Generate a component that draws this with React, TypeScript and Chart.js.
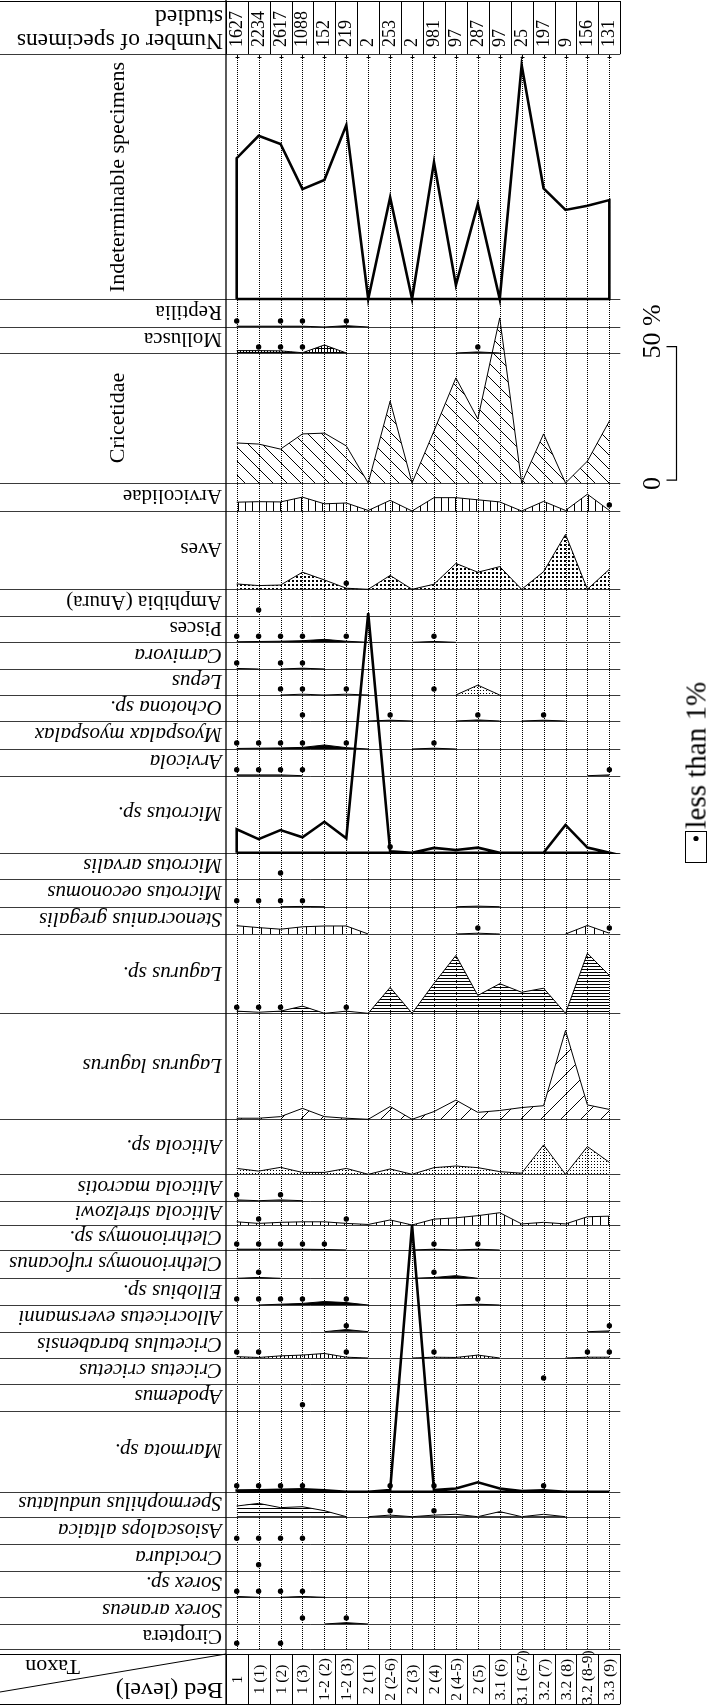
import React, { useEffect, useRef } from "react";
import { Chart, registerables } from "chart.js";

Chart.register(...registerables);

// ---------------- data ----------------
const bedLabels = ["1", "1 (1)", "1 (2)", "1 (3)", "1-2 (2)", "1-2 (3)", "2 (1)", "2 (2-6)", "2 (3)", "2 (4)", "2 (4-5)", "2 (5)", "3.1 (6)", "3.1 (6-7)", "3.2 (7)", "3.2 (8)", "3.2 (8-9)", "3.3 (9)"];
const specimenCounts = [1627, 2234, 2617, 1088, 152, 219, 2, 253, 2, 981, 97, 287, 97, 25, 197, 9, 156, 131];

// percentages per bed (18 beds)
const indeterminable = [52.8, 61.2, 58.1, 41.2, 44.6, 65.2, 0, 38.1, 0, 51.3, 5.2, 35.6, 0, 87.7, 41.5, 33.4, 35.0, 37.1];
const reptilia = [0.3, 0.3, 0.3, 0.3, 0, 0.5, 0, 0, 0, 0, 0, 0, 0, 0, 0, 0, 0, 0];
const mollusca = [0.9, 0.9, 0.8, 0.1, 3.0, 0, 0, 0, 0, 0, 0, 0.4, 0, 0, 0, 0, 0, 0];
const cricetidae = [15.0, 14.6, 12.7, 18.4, 18.7, 13.9, 0, 30.7, 0, 19.5, 39.4, 24.0, 61.9, 0, 18.4, 0, 8.2, 23.2];
const arvicolidae = [3.3, 3.5, 3.4, 5.2, 2.7, 3.0, 0.2, 4.0, 0, 5.0, 5.0, 4.2, 3.4, 0, 3.6, 0.2, 6.3, 0.2];
const aves = [2.0, 1.4, 1.6, 6.4, 3.5, 0.4, 0, 5.2, 0, 1.9, 9.7, 6.4, 8.5, 0, 6.6, 20.6, 0, 7.5];
const pisces = [0.2, 0.3, 0.4, 0.6, 1.1, 0.4, 0, 0, 0, 0.3, 0, 0, 0, 0, 0, 0, 0, 0];
const carnivora = [0.2, 0, 0, 0.3, 0, 0, 0, 0, 0, 0, 0, 0, 0, 0, 0, 0, 0, 0];
const lepus = [0, 0, 0, 0.3, 0, 0.3, 0, 0, 0, 0, 0, 3.7, 0, 0, 0, 0, 0, 0];
const ochotona = [0, 0, 0, 0, 0, 0, 0, 0.3, 0, 0, 0, 0.4, 0, 0, 0.3, 0, 0, 0];
const myospalax = [0.2, 0.3, 0.4, 0.6, 1.5, 0.5, 0, 0, 0, 0.3, 0, 0, 0, 0, 0, 0, 0, 0];
const arvicola = [0.3, 0.3, 0.3, 0, 0, 0, 0, 0, 0, 0, 0, 0, 0, 0, 0, 0, 0, 0.3];
const microtusSp = [8.8, 5.1, 8.5, 5.8, 11.6, 5.4, 89.8, 0.5, 0, 1.8, 1.0, 1.9, 0, 0, 0, 10.4, 1.9, 0];
const microtusOeconomus = [0, 0, 0, 0.1, 0, 0, 0, 0, 0, 0, 0, 0.2, 0, 0, 0, 0, 0, 0];
const stenocranius = [3.1, 2.4, 1.8, 2.7, 3.0, 3.0, 0, 0, 0, 0, 0, 0.3, 0, 0, 0, 0, 3.2, 0.3];
const lagurusSp = [0.8, 0.4, 0.8, 2.7, 0, 0.8, 0, 9.7, 0, 11.2, 21.7, 6.7, 11.1, 7.9, 9.4, 0, 22.5, 14.2];
const lagurusLagurus = [0.4, 0.4, 1.0, 4.1, 1.0, 0.4, 0, 4.8, 0, 2.9, 7.2, 2.6, 3.3, 4.4, 5.1, 33.3, 5.4, 3.7];
const alticolaSp = [2.2, 1.2, 2.6, 0.7, 0.7, 2.2, 0, 2.0, 0, 2.5, 3.1, 2.5, 1.0, 0.4, 11.0, 0, 10.4, 4.5];
const alticolaMacrotis = [0.3, 0, 0.3, 0, 0, 0, 0, 0, 0, 0, 0, 0, 0, 0, 0, 0, 0, 0];
const alticolaStrelzowi = [1.2, 0.6, 1.0, 1.2, 1.2, 0.6, 0.2, 1.9, 0, 2.2, 2.7, 3.5, 4.6, 0.4, 1.0, 0.4, 3.1, 3.3];
const clethrionomysSp = [0.3, 0.3, 0.3, 0.3, 0.2, 0, 0, 0, 0, 0.3, 0, 0.3, 0, 0, 0, 0, 0, 0];
const clethrionomysRufocanus = [0, 0.3, 0, 0, 0, 0, 0, 0, 0, 0.3, 1.0, 0, 0, 0, 0, 0, 0, 0];
const ellobius = [0, 0, 0.3, 0.6, 1.3, 0.9, 0, 0, 0, 0, 0, 0.3, 0, 0, 0, 0, 0, 0];
const allocricetus = [0, 0, 0, 0, 0, 0.8, 0, 0, 0, 0, 0, 0, 0, 0, 0, 0, 0, 0.3];
const cricetulus = [0.5, 0.2, 0.8, 1.1, 1.7, 0.3, 0, 0, 0, 0.3, 0.2, 1.1, 0, 0, 0, 0, 0.3, 0.3];
const marmota = [0.4, 0.5, 0.75, 0.9, 0.5, 0, 0, 0.6, 100, 0.6, 1.2, 3.5, 1.2, 0.25, 0.5, 0, 0, 0];
const spermophilus = [4.0, 5.0, 3.4, 3.75, 2.25, 0, 0, 0.6, 0, 0.6, 0.9, 0, 1.9, 0, 0.9, 0, 0, 0];
const sorexSp = [0.3, 0, 0, 0.3, 0, 0, 0, 0, 0, 0, 0, 0, 0, 0, 0, 0, 0, 0];
const sorexAraneus = [0, 0, 0, 0, 0, 0.5, 0, 0, 0, 0, 0, 0, 0, 0, 0, 0, 0, 0];

// beds with "less than 1%"
const reptiliaDots = [0, 2, 3, 5];
const molluscaDots = [1, 2, 3, 11];
const arvicolidaeDots = [17];
const avesDots = [5];
const amphibiaDots = [1];
const piscesDots = [0, 1, 2, 3, 5, 9];
const carnivoraDots = [0, 2, 3];
const lepusDots = [2, 3, 5, 9];
const ochotonaDots = [3, 7, 11, 14];
const myospalaxDots = [0, 1, 2, 3, 5, 9];
const arvicolaDots = [0, 1, 2, 3, 17];
const microtusSpDots = [7];
const microtusArvalisDots = [2];
const microtusOeconomusDots = [0, 1, 2, 3];
const stenocraniusDots = [11, 17];
const lagurusSpDots = [0, 1, 2, 5];
const alticolaMacrotisDots = [0, 2];
const alticolaStrelzowiDots = [1, 5];
const clethrionomysSpDots = [0, 1, 2, 3, 4, 9, 11];
const clethrionomysRufocanusDots = [1, 9];
const ellobiusDots = [0, 1, 2, 3, 5, 11];
const allocricetusDots = [5, 17];
const cricetulusDots = [0, 1, 5, 9, 16, 17];
const cricetusDots = [14];
const apodemusDots = [3];
const marmotaDots = [0, 1, 2, 3, 7, 9, 14];
const spermophilusDots = [7, 9];
const asioscalopsDots = [0, 1, 2, 3];
const crociduraDots = [1];
const sorexSpDots = [0, 1, 2, 3];
const sorexAraneusDots = [3, 5];
const cimropteraDots = [0, 2];

// ---------------- layout ----------------
const PAGE_W = 707;
const PAGE_H = 1705;
const BED0_PX = 236.7;
const BED_STEP_PX = 21.92;
const LEFT_COL_X = 226;
const HEADER_TOP = 1;
const HEADER_BOTTOM = 54;
const BED_ROW_TOP = 1654;
const BED_ROW_BOTTOM = 1704;
const PX_PER_PERCENT = 2.667;
const DOT_RISE = 6;
const rowEdges = [54, 299, 327, 353, 483, 511, 589.3, 616, 642.3, 669, 695, 721, 749, 775.7, 852.7, 879, 906.7, 934, 1013.3, 1119.3, 1174.3, 1200.7, 1225, 1250, 1278.3, 1305, 1331.7, 1358, 1384, 1410.7, 1491.7, 1516.7, 1544.3, 1570.7, 1597.3, 1624, 1649.3];
const SERIF = '"Liberation Serif", "Times New Roman", Times, serif';

type Taxon = { name: string; italic: boolean; tall?: boolean; values: number[] | null; dots: number[]; fill: string };

const taxa: Taxon[] = [
  { name: "Indeterminable specimens", italic: false, tall: true, values: indeterminable, dots: [], fill: "outline" },
  { name: "Reptilia", italic: false, values: reptilia, dots: reptiliaDots, fill: "solid" },
  { name: "Mollusca", italic: false, values: mollusca, dots: molluscaDots, fill: "grid" },
  { name: "Cricetidae", italic: false, tall: true, values: cricetidae, dots: [], fill: "diagBack" },
  { name: "Arvicolidae", italic: false, values: arvicolidae, dots: arvicolidaeDots, fill: "vert7" },
  { name: "Aves", italic: false, values: aves, dots: avesDots, fill: "dots" },
  { name: "Amphibia (Anura)", italic: false, values: null, dots: amphibiaDots, fill: "none" },
  { name: "Pisces", italic: false, values: pisces, dots: piscesDots, fill: "solid" },
  { name: "Carnivora", italic: true, values: carnivora, dots: carnivoraDots, fill: "solid" },
  { name: "Lepus", italic: true, values: lepus, dots: lepusDots, fill: "sparse" },
  { name: "Ochotona sp.", italic: true, values: ochotona, dots: ochotonaDots, fill: "solid" },
  { name: "Myospalax myospalax", italic: true, values: myospalax, dots: myospalaxDots, fill: "solid" },
  { name: "Arvicola", italic: true, values: arvicola, dots: arvicolaDots, fill: "solid" },
  { name: "Microtus sp.", italic: true, values: microtusSp, dots: microtusSpDots, fill: "outline" },
  { name: "Microtus arvalis", italic: true, values: null, dots: microtusArvalisDots, fill: "none" },
  { name: "Microtus oeconomus", italic: true, values: microtusOeconomus, dots: microtusOeconomusDots, fill: "solid" },
  { name: "Stenocranius gregalis", italic: true, values: stenocranius, dots: stenocraniusDots, fill: "vert9" },
  { name: "Lagurus sp.", italic: true, values: lagurusSp, dots: lagurusSpDots, fill: "horiz3" },
  { name: "Lagurus lagurus", italic: true, values: lagurusLagurus, dots: [], fill: "diagFwd" },
  { name: "Alticola sp.", italic: true, values: alticolaSp, dots: [], fill: "sparse" },
  { name: "Alticola macrotis", italic: true, values: alticolaMacrotis, dots: alticolaMacrotisDots, fill: "solid" },
  { name: "Alticola strelzowi", italic: true, values: alticolaStrelzowi, dots: alticolaStrelzowiDots, fill: "vert8" },
  { name: "Clethrionomys sp.", italic: true, values: clethrionomysSp, dots: clethrionomysSpDots, fill: "solid" },
  { name: "Clethrionomys rufocanus", italic: true, values: clethrionomysRufocanus, dots: clethrionomysRufocanusDots, fill: "solid" },
  { name: "Ellobius sp.", italic: true, values: ellobius, dots: ellobiusDots, fill: "solid" },
  { name: "Allocricetus eversmanni", italic: true, values: allocricetus, dots: allocricetusDots, fill: "solid" },
  { name: "Cricetulus barabensis", italic: true, values: cricetulus, dots: cricetulusDots, fill: "vert4" },
  { name: "Cricetus cricetus", italic: true, values: null, dots: cricetusDots, fill: "none" },
  { name: "Apodemus", italic: true, values: null, dots: apodemusDots, fill: "none" },
  { name: "Marmota sp.", italic: true, values: marmota, dots: marmotaDots, fill: "outline" },
  { name: "Spermophilus undulatus", italic: true, values: spermophilus, dots: spermophilusDots, fill: "horiz4" },
  { name: "Asioscalops altaica", italic: true, values: null, dots: asioscalopsDots, fill: "none" },
  { name: "Crocidura", italic: true, values: null, dots: crociduraDots, fill: "none" },
  { name: "Sorex sp.", italic: true, values: sorexSp, dots: sorexSpDots, fill: "solid" },
  { name: "Sorex araneus", italic: true, values: sorexAraneus, dots: sorexAraneusDots, fill: "solid" },
  { name: "Ciroptera", italic: false, values: null, dots: cimropteraDots, fill: "none" },
];

function makePattern(kind: string): CanvasPattern | string {
  if (kind === "solid") return "#000";
  const c = document.createElement("canvas");
  const g = c.getContext("2d")!;
  const size = (w: number, h: number) => {
    c.width = w;
    c.height = h;
    g.fillStyle = "#000";
    g.strokeStyle = "#000";
    g.lineWidth = 1;
  };
  if (kind === "diagBack") {
    const s = 14;
    size(s, s);
    g.beginPath();
    for (const k of [-1, 0, 1]) {
      g.moveTo(0, k * s);
      g.lineTo(s, k * s + s);
    }
    g.stroke();
  } else if (kind === "diagFwd") {
    const s = 20;
    size(s, s);
    g.beginPath();
    for (const k of [0, 1, 2]) {
      g.moveTo(0, k * s);
      g.lineTo(s, k * s - s);
    }
    g.stroke();
  } else if (kind.startsWith("vert")) {
    const s = parseInt(kind.slice(4), 10);
    size(s, 1);
    g.fillRect(0, 0, 1, 1);
  } else if (kind.startsWith("horiz")) {
    const s = parseInt(kind.slice(5), 10);
    size(1, s);
    g.fillRect(0, 0, 1, 1);
  } else if (kind === "dots") {
    size(4, 4);
    g.fillRect(0, 0, 2, 2);
  } else if (kind === "sparse") {
    size(3, 3);
    g.fillRect(0, 0, 1, 1);
  } else if (kind === "grid") {
    size(3, 4);
    g.fillRect(0, 0, 1, 4);
    g.fillRect(0, 0, 3, 1);
  }
  return g.createPattern(c, "repeat") as CanvasPattern;
}

function buildDatasets() {
  const sets: any[] = [];
  taxa.forEach((t, r) => {
    const base = rowEdges[r + 1];
    const vals = t.values;
    if (vals && t.fill !== "outline") {
      sets.push({
        data: vals.map((v, i) => ({ x: i, y: base - v * PX_PER_PERCENT })),
        borderColor: "#000",
        borderWidth: 1,
        backgroundColor: makePattern(t.fill),
        fill: { value: base },
        pointRadius: 0,
        tension: 0,
        order: 3,
        segment: {
          borderColor: (ctx: any) => (vals[ctx.p0DataIndex] === 0 && vals[ctx.p1DataIndex] === 0 ? "rgba(0,0,0,0)" : undefined),
        },
      });
    }
    if (vals && t.fill === "outline") {
      const last = vals.length - 1;
      sets.push({
        data: [
          { x: 0, y: base },
          ...vals.map((v, i) => ({ x: i, y: base - v * PX_PER_PERCENT })),
          { x: last, y: base },
          { x: 0, y: base },
        ],
        borderColor: "#000",
        borderWidth: 2.6,
        fill: false,
        pointRadius: 0,
        tension: 0,
        order: 1,
      });
    }
  });
  const dotPoints: { x: number; y: number }[] = [];
  taxa.forEach((t, r) => {
    t.dots.forEach((i) => dotPoints.push({ x: i, y: rowEdges[r + 1] - DOT_RISE }));
  });
  sets.push({
    data: dotPoints,
    showLine: false,
    pointRadius: 2.7,
    pointBackgroundColor: "#000",
    pointBorderColor: "#000",
    pointBorderWidth: 0,
    order: 0,
  });
  return sets;
}

const tablePlugin = {
  id: "tableLines",
  beforeDatasetsDraw(chart: any) {
    const { ctx, scales } = chart;
    const xs = scales.x;
    const ys = scales.y;
    const px = (i: number) => xs.getPixelForValue(i);
    const py = (v: number) => ys.getPixelForValue(v);
    const right = px(bedLabels.length - 0.5);
    const crisp = (v: number) => Math.round(v) + 0.5;
    ctx.save();
    // dotted bed lines
    ctx.strokeStyle = "#000";
    ctx.lineWidth = 1;
    ctx.setLineDash([1, 1]);
    bedLabels.forEach((_, i) => {
      const x = crisp(px(i));
      ctx.beginPath();
      ctx.moveTo(x, py(HEADER_BOTTOM));
      ctx.lineTo(x, py(rowEdges[rowEdges.length - 1]));
      ctx.stroke();
    });
    ctx.setLineDash([]);
    // small ticks under the header
    bedLabels.forEach((_, i) => {
      const x = crisp(px(i));
      ctx.beginPath();
      ctx.moveTo(x, py(HEADER_BOTTOM));
      ctx.lineTo(x, py(HEADER_BOTTOM + 5));
      ctx.moveTo(x - 2, py(HEADER_BOTTOM + 3) + 0.5);
      ctx.lineTo(x + 2, py(HEADER_BOTTOM + 3) + 0.5);
      ctx.stroke();
    });
    // row lines
    ctx.strokeStyle = "#3a3a3a";
    ctx.lineWidth = 1;
    rowEdges.forEach((e) => {
      const y = crisp(py(e));
      ctx.beginPath();
      ctx.moveTo(0, y);
      ctx.lineTo(right, y);
      ctx.stroke();
    });
    // header and bed-label rows
    ctx.strokeStyle = "#000";
    [HEADER_TOP, BED_ROW_TOP, BED_ROW_BOTTOM].forEach((e) => {
      const y = crisp(py(e));
      ctx.beginPath();
      ctx.moveTo(0, y);
      ctx.lineTo(right, y);
      ctx.stroke();
    });
    for (let k = 0; k <= bedLabels.length; k++) {
      const x = crisp(px(k - 0.5));
      ctx.beginPath();
      ctx.moveTo(x, py(HEADER_TOP));
      ctx.lineTo(x, py(HEADER_BOTTOM));
      ctx.moveTo(x, py(BED_ROW_TOP));
      ctx.lineTo(x, py(BED_ROW_BOTTOM));
      ctx.stroke();
    }
    // left column border
    ctx.lineWidth = 1.3;
    ctx.beginPath();
    ctx.moveTo(LEFT_COL_X, 0);
    ctx.lineTo(LEFT_COL_X, PAGE_H);
    ctx.stroke();
    // diagonal in the corner cell
    ctx.lineWidth = 1;
    ctx.beginPath();
    ctx.moveTo(LEFT_COL_X, py(BED_ROW_TOP));
    ctx.lineTo(0, py(BED_ROW_TOP) + 38);
    ctx.stroke();
    ctx.restore();
  },
  afterDraw(chart: any) {
    const { ctx } = chart;
    ctx.save();
    ctx.strokeStyle = "#000";
    ctx.lineWidth = 1.2;
    // scale bar: 50 %
    const barX = 676.5;
    const barTop = 346.7;
    const barBottom = barTop + 50 * PX_PER_PERCENT;
    ctx.beginPath();
    ctx.moveTo(666.5, barTop);
    ctx.lineTo(barX, barTop);
    ctx.lineTo(barX, barBottom);
    ctx.lineTo(666.5, barBottom);
    ctx.stroke();
    // legend box
    ctx.lineWidth = 1;
    ctx.strokeRect(685.5, 831.5, 21, 31);
    ctx.fillStyle = "#000";
    ctx.beginPath();
    ctx.arc(696, 838.5, 2.6, 0, Math.PI * 2);
    ctx.fill();
    ctx.restore();
  },
};

function upsideDown(key: string, text: React.ReactNode, right: number, cy: number, size: number, italic: boolean, w = 218, h = 26) {
  return (
    <div
      key={key}
      style={{
        position: "absolute",
        left: right - w,
        top: cy - h / 2,
        width: w,
        height: h,
        lineHeight: h + "px",
        fontSize: size,
        fontStyle: italic ? "italic" : "normal",
        whiteSpace: "nowrap",
        textAlign: "left",
        transform: "rotate(180deg)",
      }}
    >
      {text}
    </div>
  );
}

function vertical(key: string, text: string, cx: number, cy: number, size: number, len: number, align: "left" | "center") {
  const h = Math.round(size * 1.2);
  return (
    <div
      key={key}
      style={{
        position: "absolute",
        left: cx - len / 2,
        top: cy - h / 2,
        width: len,
        height: h,
        lineHeight: h + "px",
        fontSize: size,
        whiteSpace: "nowrap",
        textAlign: align,
        transform: "rotate(-90deg)",
      }}
    >
      {text}
    </div>
  );
}

export default function App() {
  const ref = useRef<HTMLCanvasElement>(null);
  useEffect(() => {
    document.body.style.margin = "0";
    const canvas = ref.current!;
    const chart = new Chart(canvas, {
      type: "line",
      data: { datasets: buildDatasets() },
      options: {
        animation: false,
        responsive: false,
        maintainAspectRatio: false,
        events: [],
        layout: { padding: 0, autoPadding: false } as any,
        scales: {
          x: { type: "linear", min: -BED0_PX / BED_STEP_PX, max: (PAGE_W - BED0_PX) / BED_STEP_PX, display: false },
          y: { type: "linear", min: 0, max: PAGE_H, reverse: true, display: false },
        },
        plugins: { legend: { display: false }, tooltip: { enabled: false } },
      },
      plugins: [tablePlugin],
    } as any);
    return () => chart.destroy();
  }, []);

  const bedPx = (i: number) => BED0_PX + BED_STEP_PX * i;

  return (
    <div style={{ position: "absolute", left: 0, top: 0, width: PAGE_W, height: PAGE_H, overflow: "hidden", background: "#fff", color: "#000", fontFamily: SERIF }}>
      <canvas ref={ref} width={PAGE_W} height={PAGE_H} style={{ position: "absolute", left: 0, top: 0, width: PAGE_W, height: PAGE_H }} />
      <div
        style={{
          position: "absolute",
          left: 1,
          top: 2,
          width: 222,
          height: 52,
          fontSize: 23.5,
          lineHeight: "24px",
          whiteSpace: "nowrap",
          textAlign: "left",
          transform: "rotate(180deg)",
        }}
      >
        Number of specimens
        <br />
        studied
      </div>
      {specimenCounts.map((n, i) => vertical("c" + i, String(n), bedPx(i) - 1, 47 - 22, 18, 44, "left"))}
      {bedLabels.map((b, i) => vertical("b" + i, b, bedPx(i) - 1, 1679, 15.5, 50, "center"))}
      {taxa.map((t, r) => {
        const cy = (rowEdges[r] + rowEdges[r + 1]) / 2;
        if (t.tall) return vertical("t" + r, t.name, 117, cy, 22, 260, "center");
        return upsideDown("t" + r, t.name, 222, cy, 21, t.italic);
      })}
      {upsideDown("taxon", "Taxon", 80, 1667, 22, false, 80, 24)}
      {upsideDown("bed", "Bed (level)", 223, 1691, 24, false, 150, 26)}
      {vertical("legend", "less than 1%", 696, 828 - 85, 29, 170, "left")}
      {vertical("s50", "50 %", 651, 331, 26, 70, "center")}
      {vertical("s0", "0", 651, 483, 26, 30, "center")}
    </div>
  );
}
